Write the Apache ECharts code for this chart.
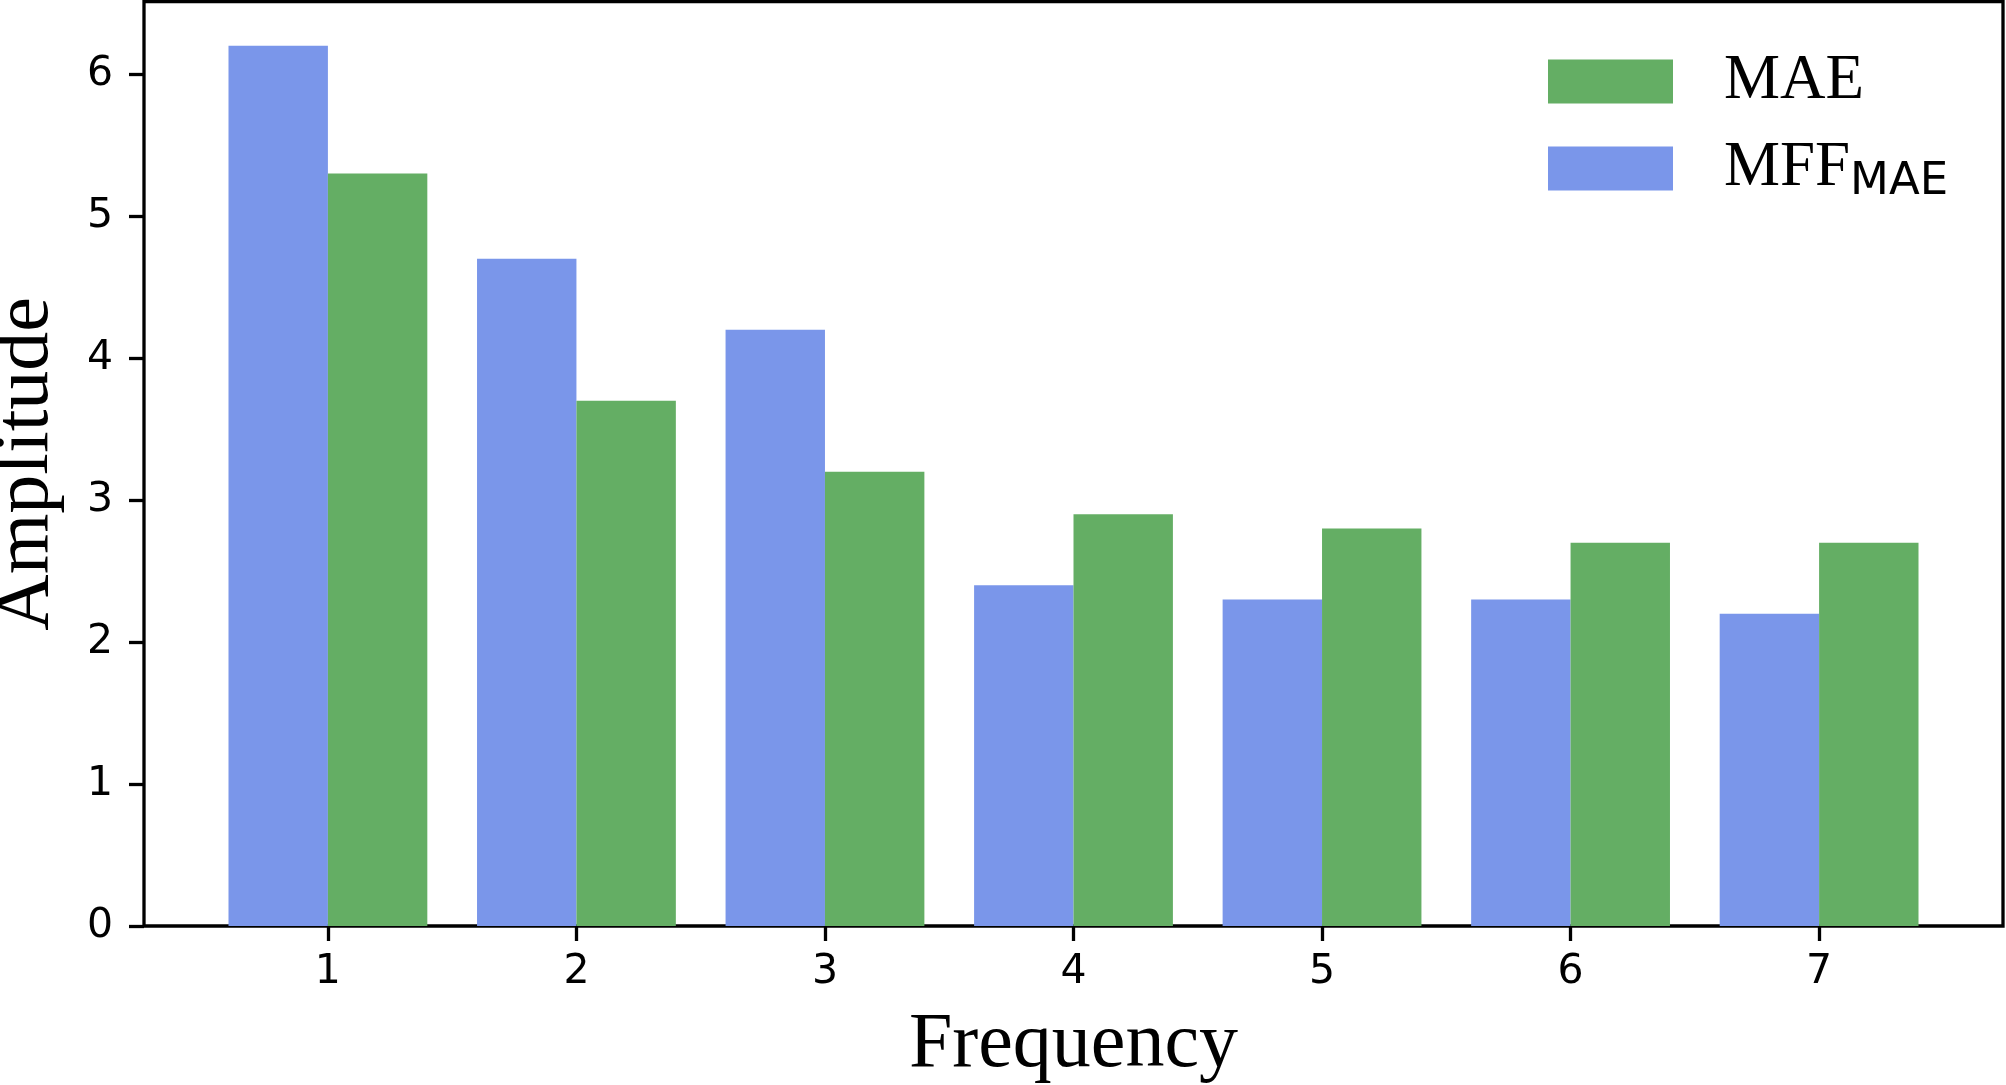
<!DOCTYPE html>
<html>
<head>
<meta charset="utf-8">
<script src="https://cdn.jsdelivr.net/npm/echarts@6/dist/echarts.min.js"></script>
<style>
  html, body { margin: 0; padding: 0; background: #fff; }
  #chart { width: 2006px; height: 1085px; }
</style>
</head>
<body>
<div id="chart"></div>
<script>
// data
const frequency = [1, 2, 3, 4, 5, 6, 7];
const mffMae = [6.2, 4.7, 4.2, 2.4, 2.3, 2.3, 2.2];
const mae = [5.3, 3.7, 3.2, 2.9, 2.8, 2.7, 2.7];
const yTicks = [0, 1, 2, 3, 4, 5, 6];

const xMin = 0.26, xMax = 7.74;
const yMin = 0, yMax = 6.51;
const barSpan = 0.4; // bar width in axis units
const gridLeft = 144, gridRight = 3;
const plotWidth = 2006 - gridLeft - gridRight;
const barPx = barSpan * plotWidth / (xMax - xMin);

const chart = echarts.init(document.getElementById("chart"), null, { renderer: "canvas" });

const option = {
  backgroundColor: "#fff",
  animation: false,
  grid: {
    left: gridLeft,
    right: gridRight,
    top: 1.7,
    bottom: 159,
    show: true,
    borderColor: "#000",
    borderWidth: 3.3,
    backgroundColor: "transparent",
    outerBoundsMode: "none",
  },
  legend: {
    orient: "vertical",
    left: 1548,
    top: 50,
    padding: 0,
    itemWidth: 125,
    itemHeight: 44,
    itemGap: 19,
    icon: "rect",
    data: ["MAE", "MFF_MAE"],
    formatter: (name) => (name === "MFF_MAE" ? "{a|MFF}{s|MAE}" : "{a|MAE}"),
    textStyle: {
      color: "#000",
      rich: {
        a: {
          fontFamily: "Liberation Serif",
          fontSize: 63,
          lineHeight: 44,
          color: "#000",
          padding: [0, 0, 0, 46],
        },
        s: {
          fontFamily: "DejaVu Sans",
          fontSize: 45,
          lineHeight: 16,
          color: "#000",
          padding: [28, 0, 0, 0],
        },
      },
    },
  },
  xAxis: {
    type: "value",
    min: xMin,
    max: xMax,
    name: "Frequency",
    nameLocation: "middle",
    nameGap: 81,
    nameTextStyle: {
      fontFamily: "Liberation Serif",
      fontSize: 78,
      color: "#000",
    },
    axisLine: { show: false },
    splitLine: { show: false },
    axisTick: {
      show: true,
      length: 15,
      customValues: frequency,
      lineStyle: { color: "#000", width: 3.3 },
    },
    axisLabel: {
      customValues: frequency,
      margin: 26,
      fontFamily: "DejaVu Sans",
      fontSize: 41,
      color: "#000",
    },
  },
  yAxis: {
    type: "value",
    min: yMin,
    max: yMax,
    name: "Amplitude",
    nameLocation: "middle",
    nameGap: 78,
    nameTextStyle: {
      fontFamily: "Liberation Serif",
      fontSize: 78,
      color: "#000",
    },
    axisLine: { show: false },
    splitLine: { show: false },
    axisTick: {
      show: true,
      length: 15,
      customValues: yTicks,
      lineStyle: { color: "#000", width: 3.3 },
    },
    axisLabel: {
      customValues: yTicks,
      margin: 31,
      fontFamily: "DejaVu Sans",
      fontSize: 41,
      color: "#000",
    },
  },
  series: [
    {
      name: "MFF_MAE",
      type: "bar",
      barWidth: barPx,
      barGap: "-100%",
      itemStyle: { color: "#7A96EA" },
      data: frequency.map((f, i) => [f - barSpan / 2, mffMae[i]]),
    },
    {
      name: "MAE",
      type: "bar",
      barWidth: barPx,
      barGap: "-100%",
      itemStyle: { color: "#64AE64" },
      data: frequency.map((f, i) => [f + barSpan / 2, mae[i]]),
    },
  ],
};

chart.setOption(option);
</script>
</body>
</html>
